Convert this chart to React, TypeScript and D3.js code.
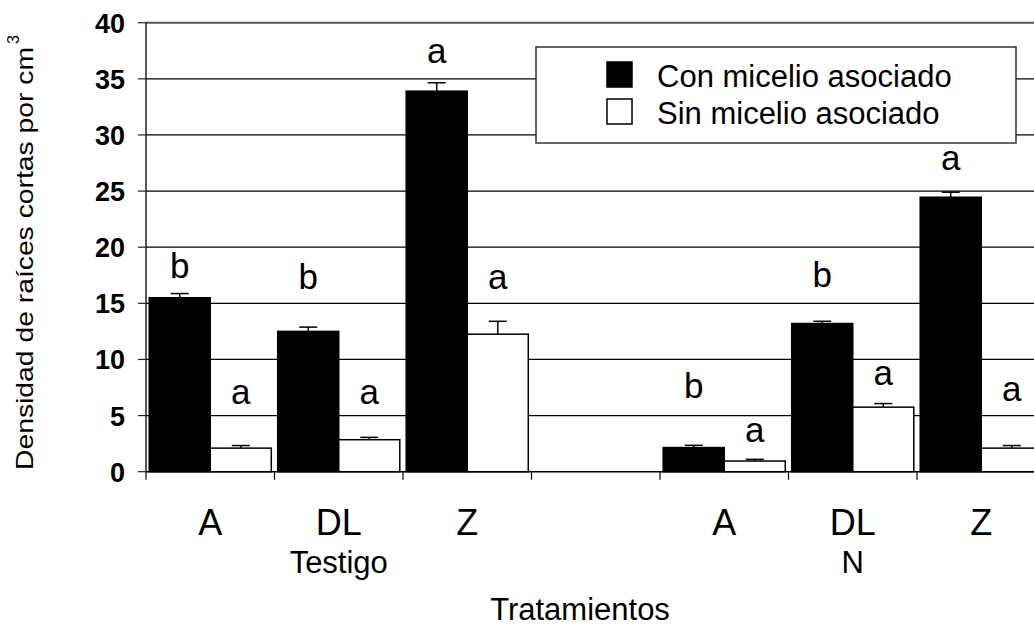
import { useEffect, useRef } from 'react';
import * as d3 from 'd3';

// Treatments inside each group, and the two groups on the x axis
const treatments = ['A', 'DL', 'Z'];
const groups = ['Testigo', 'N'];
const seriesNames = ['Con micelio asociado', 'Sin micelio asociado'];

// values ordered Testigo A, DL, Z then N A, DL, Z
const conMicelio = [15.5, 12.5, 33.9, 2.15, 13.2, 24.45];
const conMicelioErr = [0.37, 0.38, 0.75, 0.2, 0.2, 0.45];
const sinMicelio = [2.1, 2.85, 12.25, 0.95, 5.75, 2.1];
const sinMicelioErr = [0.23, 0.21, 1.15, 0.15, 0.32, 0.23];

// significance letters and the value where each one sits
const conLetters = ['b', 'b', 'a', 'b', 'b', 'a'];
const sinLetters = ['a', 'a', 'a', 'a', 'a', 'a'];
const conLetterY = [17.3, 16.3, 36.4, 6.56, 16.45, 26.9];
const sinLetterY = [6.06, 6.06, 16.3, 2.61, 7.75, 6.26];

const yTicks = [0, 5, 10, 15, 20, 25, 30, 35, 40];

const FONT = '"Liberation Sans", Arial, sans-serif';

interface Row {
  slot: string;
  group: string;
  treatment: string;
  values: { series: string; value: number; err: number; letter: string; letterY: number }[];
}

export default function App() {
  const svgRef = useRef<SVGSVGElement>(null);

  useEffect(() => {
    if (!svgRef.current) return;
    const svg = d3.select(svgRef.current);
    svg.selectAll('*').remove();

    // build slots: three treatments, an empty slot, three treatments
    const slots: string[] = [];
    const rows: Row[] = [];
    groups.forEach((g, gi) => {
      if (gi > 0) slots.push('gap');
      treatments.forEach((t, ti) => {
        const i = gi * treatments.length + ti;
        const slot = `${g}-${t}`;
        slots.push(slot);
        rows.push({
          slot,
          group: g,
          treatment: t,
          values: [
            { series: seriesNames[0], value: conMicelio[i], err: conMicelioErr[i], letter: conLetters[i], letterY: conLetterY[i] },
            { series: seriesNames[1], value: sinMicelio[i], err: sinMicelioErr[i], letter: sinLetters[i], letterY: sinLetterY[i] },
          ],
        });
      });
    });

    const left = 146;
    const right = 1045.5;
    const x = d3.scaleBand()
      .domain(slots)
      .range([left, right])
      .paddingInner(0.05)
      .paddingOuter(0.025);

    const xSub = d3.scaleBand()
      .domain(seriesNames)
      .range([0, x.bandwidth()]);

    const y = d3.scaleLinear()
      .domain([0, 40])
      .range([471.7, 22.7]);

    const color = d3.scaleOrdinal<string>().domain(seriesNames).range(['#000000', '#ffffff']);

    // gridlines
    svg.append('g')
      .selectAll('line')
      .data(yTicks.filter(d => d > 0))
      .join('line')
      .attr('x1', left)
      .attr('x2', right)
      .attr('y1', d => y(d))
      .attr('y2', d => y(d))
      .attr('stroke', d => (d === 40 ? '#555' : '#000'))
      .attr('stroke-width', d => (d === 40 ? 2 : 1.2));

    // bars
    const rowG = svg.append('g')
      .selectAll('g')
      .data(rows)
      .join('g')
      .attr('transform', d => `translate(${x(d.slot)},0)`);

    rowG.selectAll('rect')
      .data(d => d.values)
      .join('rect')
      .attr('x', d => xSub(d.series) || 0)
      .attr('y', d => y(d.value))
      .attr('width', xSub.bandwidth())
      .attr('height', d => y(0) - y(d.value))
      .attr('fill', d => color(d.series))
      .attr('stroke', '#000')
      .attr('stroke-width', 1.5);

    // error bars (upper whisker only)
    const err = rowG.selectAll('g.err')
      .data(d => d.values)
      .join('g')
      .attr('class', 'err')
      .attr('transform', d => `translate(${(xSub(d.series) || 0) + xSub.bandwidth() / 2},0)`);

    err.append('line')
      .attr('x1', 0).attr('x2', 0)
      .attr('y1', d => y(d.value))
      .attr('y2', d => y(d.value + d.err))
      .attr('stroke', '#000')
      .attr('stroke-width', 1.5);

    err.append('line')
      .attr('x1', -9).attr('x2', 9)
      .attr('y1', d => y(d.value + d.err))
      .attr('y2', d => y(d.value + d.err))
      .attr('stroke', '#000')
      .attr('stroke-width', 1.5);

    // letters
    err.append('text')
      .attr('y', d => y(d.letterY))
      .attr('text-anchor', 'middle')
      .style('font-family', FONT)
      .style('font-size', '35px')
      .style('fill', '#000')
      .text(d => d.letter);

    // y axis
    svg.append('line')
      .attr('x1', left).attr('x2', left)
      .attr('y1', y(40)).attr('y2', y(0))
      .attr('stroke', '#222')
      .attr('stroke-width', 1.5);

    const yAxis = svg.append('g');
    yAxis.selectAll('line')
      .data(yTicks)
      .join('line')
      .attr('x1', left - 8).attr('x2', left)
      .attr('y1', d => y(d)).attr('y2', d => y(d))
      .attr('stroke', '#222')
      .attr('stroke-width', 1.2);

    yAxis.selectAll('text')
      .data(yTicks)
      .join('text')
      .attr('x', 125)
      .attr('y', d => y(d) + 10)
      .attr('text-anchor', 'end')
      .style('font-family', FONT)
      .style('font-size', '27px')
      .style('font-weight', 'bold')
      .text(d => d);

    // x axis
    svg.append('line')
      .attr('x1', left).attr('x2', right)
      .attr('y1', y(0)).attr('y2', y(0))
      .attr('stroke', '#000')
      .attr('stroke-width', 1.5);

    const boundaries = slots.map(s => (x(s) || 0) - (x.step() - x.bandwidth()) / 2).concat(right);
    svg.append('g')
      .selectAll('line')
      .data(boundaries)
      .join('line')
      .attr('x1', d => d).attr('x2', d => d)
      .attr('y1', y(0)).attr('y2', y(0) + 8)
      .attr('stroke', '#000')
      .attr('stroke-width', 1.2);

    svg.append('g')
      .selectAll('text')
      .data(rows)
      .join('text')
      .attr('x', d => (x(d.slot) || 0) + x.bandwidth() / 2)
      .attr('y', 535)
      .attr('text-anchor', 'middle')
      .style('font-family', FONT)
      .style('font-size', '36px')
      .text(d => d.treatment);

    svg.append('g')
      .selectAll('text')
      .data(groups)
      .join('text')
      .attr('x', g => (x(`${g}-${treatments[1]}`) || 0) + x.bandwidth() / 2)
      .attr('y', 573)
      .attr('text-anchor', 'middle')
      .style('font-family', FONT)
      .style('font-size', '31px')
      .text(g => g);

    svg.append('text')
      .attr('x', 580)
      .attr('y', 620)
      .attr('text-anchor', 'middle')
      .style('font-family', FONT)
      .style('font-size', '31px')
      .text('Tratamientos');

    // y axis title with superscript
    svg.append('text')
      .attr('transform', 'translate(33,470) rotate(-90)')
      .attr('textLength', 423)
      .attr('lengthAdjust', 'spacingAndGlyphs')
      .style('font-family', FONT)
      .style('font-size', '24px')
      .text('Densidad de raíces cortas por cm');

    svg.append('text')
      .attr('transform', 'translate(19,44) rotate(-90)')
      .style('font-family', FONT)
      .style('font-size', '16px')
      .text('3');

    // legend
    const legend = svg.append('g');
    legend.append('rect')
      .attr('x', 536).attr('y', 47)
      .attr('width', 480).attr('height', 96)
      .attr('fill', '#fff')
      .attr('stroke', '#333')
      .attr('stroke-width', 1.5);

    seriesNames.forEach((name, i) => {
      const item = legend.append('g').attr('transform', `translate(607, ${62 + i * 37})`);
      item.append('rect')
        .attr('width', 25)
        .attr('height', 25)
        .attr('fill', color(name))
        .attr('stroke', '#000')
        .attr('stroke-width', 1.5);
      item.append('text')
        .attr('x', 50)
        .attr('y', 25)
        .style('font-family', FONT)
        .style('font-size', '31px')
        .text(name);
    });
  }, []);

  return (
    <svg
      ref={svgRef}
      width={1034}
      height={627}
      style={{ position: 'absolute', left: 0, top: 0, background: '#fff' }}
    />
  );
}
